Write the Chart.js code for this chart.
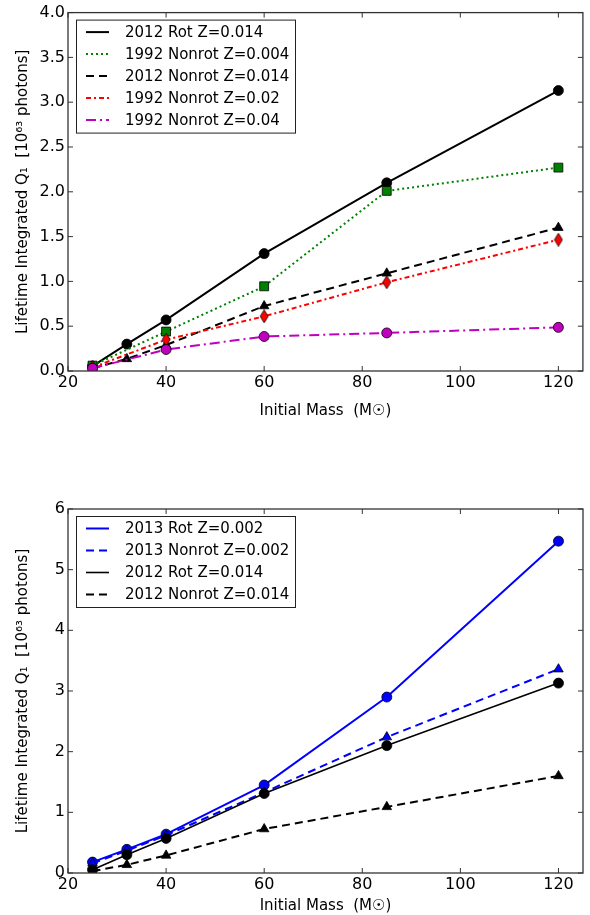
<!DOCTYPE html>
<html>
<head>
<meta charset="utf-8">
<script src="https://cdn.jsdelivr.net/npm/chart.js@4.4.1/dist/chart.umd.min.js"></script>
<style>
  body { margin: 0; background: #fff; }
  canvas { position: absolute; left: 0; }
  #chart1 { top: 0; }
  #chart2 { top: 460px; }
</style>
</head>
<body>
<canvas id="chart1" width="590" height="420"></canvas>
<canvas id="chart2" width="590" height="455"></canvas>
<script>
// initial masses (Msun)
var massGeneva = [25, 32, 40, 60, 85, 120];
var mass1992 = [25, 40, 60, 85, 120];
var xTicks = [20, 40, 60, 80, 100, 120];

// lifetime integrated Q1 (10^63 photons)
var rot2012 = [0.055, 0.30, 0.57, 1.31, 2.10, 3.13];
var nonrot2012 = [0.03, 0.135, 0.29, 0.725, 1.09, 1.60];
var nonrot1992_004 = [0.06, 0.44, 0.945, 2.01, 2.27];
var nonrot1992_02 = [0.04, 0.35, 0.61, 0.99, 1.465];
var nonrot1992_04 = [0.03, 0.24, 0.385, 0.425, 0.487];
var rot2013 = [0.18, 0.39, 0.64, 1.45, 2.90, 5.47];
var nonrot2013 = [0.16, 0.37, 0.62, 1.33, 2.24, 3.36];

var yTicksTop = [0, 0.5, 1.0, 1.5, 2.0, 2.5, 3.0, 3.5, 4.0];
var yTicksBottom = [0, 1, 2, 3, 4, 5, 6];

Chart.defaults.font.family = 'DejaVu Sans';
Chart.defaults.color = '#000';

function pts(xs, ys) {
  return xs.map(function (x, i) { return { x: x, y: ys[i] }; });
}

// thin diamond marker ('d' in matplotlib)
function thinDiamond(color) {
  var c = document.createElement('canvas');
  c.width = 10; c.height = 14;
  var g = c.getContext('2d');
  g.beginPath();
  g.moveTo(5, 0.5); g.lineTo(9, 7); g.lineTo(5, 13.5); g.lineTo(1, 7);
  g.closePath();
  g.fillStyle = color; g.fill();
  g.strokeStyle = '#000'; g.lineWidth = 0.8; g.stroke();
  return c;
}

function series(label, xs, ys, color, dash, width, style, radius, idx) {
  return {
    label: label,
    data: pts(xs, ys),
    borderColor: color,
    borderDash: dash,
    borderWidth: width,
    backgroundColor: color,
    pointStyle: style,
    pointRadius: radius,
    pointBackgroundColor: color,
    pointBorderColor: '#000',
    pointBorderWidth: 0.8,
    tension: 0,
    order: 10 - idx
  };
}

// frame + inward ticks on all four sides
var framePlugin = {
  id: 'frame',
  afterDatasetsDraw: function (chart) {
    var a = chart.chartArea, ctx = chart.ctx;
    var xs = chart.scales.x, ys = chart.scales.y;
    ctx.save();
    ctx.strokeStyle = '#333';
    ctx.lineWidth = 1.3;
    ctx.strokeRect(a.left, a.top, a.right - a.left, a.bottom - a.top);
    ctx.beginPath();
    xs.ticks.forEach(function (t) {
      var px = xs.getPixelForValue(t.value);
      ctx.moveTo(px, a.bottom); ctx.lineTo(px, a.bottom - 5);
      ctx.moveTo(px, a.top); ctx.lineTo(px, a.top + 5);
    });
    ys.ticks.forEach(function (t) {
      var py = ys.getPixelForValue(t.value);
      ctx.moveTo(a.left, py); ctx.lineTo(a.left + 5, py);
      ctx.moveTo(a.right, py); ctx.lineTo(a.right - 5, py);
    });
    ctx.lineWidth = 1;
    ctx.stroke();
    ctx.restore();
  }
};

// matplotlib style boxed legend, lines only
var boxLegend = {
  id: 'boxLegend',
  afterDraw: function (chart) {
    var a = chart.chartArea, ctx = chart.ctx;
    var sets = chart.data.datasets;
    var left = a.left + 8, top = a.top + 7;
    var w = 219, rowH = 22, h = sets.length * rowH + 3;
    ctx.save();
    ctx.fillStyle = '#fff';
    ctx.fillRect(left, top, w, h);
    ctx.strokeStyle = '#222';
    ctx.lineWidth = 1;
    ctx.strokeRect(left + 0.5, top + 0.5, w, h);
    ctx.font = '15px "DejaVu Sans"';
    ctx.textBaseline = 'middle';
    sets.forEach(function (d, i) {
      var y = top + 12.5 + i * rowH;
      ctx.beginPath();
      ctx.setLineDash(d.borderDash || []);
      ctx.strokeStyle = d.borderColor;
      ctx.lineWidth = d.borderWidth;
      ctx.moveTo(left + 10, y); ctx.lineTo(left + 33, y);
      ctx.stroke();
      ctx.setLineDash([]);
      ctx.fillStyle = '#000';
      ctx.fillText(d.label, left + 49, y + 1);
    });
    ctx.restore();
  }
};

function makeOptions(yMax, yTicks, yFmt, padTop, xHeight) {
  return {
    responsive: false,
    animation: false,
    layout: { padding: { top: padTop, right: 7, left: 0, bottom: 0 } },
    plugins: { legend: { display: false }, tooltip: { enabled: false } },
    scales: {
      x: {
        type: 'linear',
        min: 20,
        max: 125,
        afterBuildTicks: function (s) { s.ticks = xTicks.map(function (v) { return { value: v }; }); },
        afterFit: function (s) { s.height = xHeight; },
        grid: { display: false, drawTicks: false },
        border: { display: false },
        ticks: { font: { size: 16 }, color: '#000', padding: 2, maxRotation: 0, autoSkip: false },
        title: { display: true, text: 'Initial Mass  (M\u2609)', font: { size: 15 }, color: '#000', padding: { top: 1, bottom: 0 } }
      },
      y: {
        type: 'linear',
        min: 0,
        max: yMax,
        afterBuildTicks: function (s) { s.ticks = yTicks.map(function (v) { return { value: v }; }); },
        afterFit: function (s) { s.width = 68; },
        grid: { display: false, drawTicks: false },
        border: { display: false },
        ticks: { font: { size: 16 }, color: '#000', padding: 3, autoSkip: false, callback: yFmt },
        title: { display: true, text: 'Lifetime Integrated Q\u2081  [10\u2076\u00b3 photons]', font: { size: 15 }, color: '#000', padding: { top: 14, bottom: 0 } }
      }
    }
  };
}

// top panel
new Chart(document.getElementById('chart1').getContext('2d'), {
  type: 'line',
  data: {
    datasets: [
      series('2012 Rot Z=0.014', massGeneva, rot2012, '#000000', [], 2, 'circle', 5, 0),
      series('1992 Nonrot Z=0.004', mass1992, nonrot1992_004, '#008000', [2, 3], 2, 'rect', 6.3, 1),
      series('2012 Nonrot Z=0.014', massGeneva, nonrot2012, '#000000', [8, 5], 2, 'triangle', 5.5, 2),
      series('1992 Nonrot Z=0.02', mass1992, nonrot1992_02, '#ff0000', [5, 3, 2, 3], 2, thinDiamond('#ff0000'), 6, 3),
      series('1992 Nonrot Z=0.04', mass1992, nonrot1992_04, '#bf00bf', [10, 4, 2, 4], 2, 'circle', 5, 4)
    ]
  },
  options: makeOptions(4.0, yTicksTop, function (v) { return v.toFixed(1); }, 7, 49),
  plugins: [framePlugin, boxLegend]
});

// bottom panel
new Chart(document.getElementById('chart2').getContext('2d'), {
  type: 'line',
  data: {
    datasets: [
      series('2013 Rot Z=0.002', massGeneva, rot2013, '#0000ff', [], 2, 'circle', 5, 0),
      series('2013 Nonrot Z=0.002', massGeneva, nonrot2013, '#0000ff', [8, 5], 2, 'triangle', 5.5, 1),
      series('2012 Rot Z=0.014', massGeneva, rot2012, '#000000', [], 1.6, 'circle', 5, 2),
      series('2012 Nonrot Z=0.014', massGeneva, nonrot2012, '#000000', [8, 5], 2, 'triangle', 5.5, 3)
    ]
  },
  options: makeOptions(6, yTicksBottom, function (v) { return String(v); }, 49, 42),
  plugins: [framePlugin, boxLegend]
});
</script>
</body>
</html>
